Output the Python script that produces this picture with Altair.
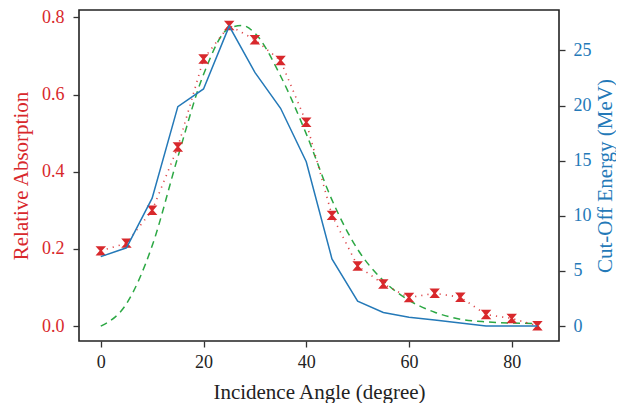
import altair as alt
import pandas as pd

# Data
angles = [0, 5, 10, 15, 20, 25, 30, 35, 40, 45, 50, 55, 60, 65, 70, 75, 80, 85]
absorption = [0.195, 0.215, 0.300, 0.464, 0.692, 0.779, 0.742, 0.688, 0.528,
              0.287, 0.156, 0.109, 0.074, 0.085, 0.075, 0.030, 0.020, 0.001]
energy = [6.3, 7.1, 11.6, 19.9, 21.5, 27.2, 23.0, 19.75, 14.9,
          6.1, 2.27, 1.23, 0.81, 0.55, 0.28, 0.0, 0.0, 0.0]
fit_angles = [0, 5, 10, 15, 20, 25, 27.5, 30, 35, 40, 45, 50, 55, 60, 65, 70, 75, 80, 85]
fit_values = [0.0, 0.058, 0.208, 0.438, 0.652, 0.772, 0.779, 0.759, 0.648, 0.498,
              0.327, 0.199, 0.118, 0.067, 0.036, 0.018, 0.011, 0.008, 0.007]

RED = "#d8282c"
BLUE = "#2479b8"
GREEN = "#2ca844"
FONT = "Liberation Serif"
LBL = 18
TTL = 21
W, H = 480, 331

abs_df = pd.DataFrame({"angle": angles, "absorption": absorption})
en_df = pd.DataFrame({"angle": angles, "energy": energy})
fit_df = pd.DataFrame({"angle": fit_angles, "absorption": fit_values})

common = dict(grid=False, domain=False, tickSize=6, labelFont=FONT,
              titleFont=FONT, labelFontSize=LBL, titleFontSize=TTL,
              titleFontWeight="normal")

x_enc = alt.X(
    "angle:Q",
    scale=alt.Scale(domain=[-4.24, 89.2], nice=False, zero=False),
    axis=alt.Axis(values=[0, 20, 40, 60, 80], title="Incidence Angle (degree)",
                  labelPadding=6, labelColor="#222", titleColor="#222",
                  titleX=W / 2, titleY=51, titleAlign="center",
                  titleBaseline="middle", **common),
)

y_left = alt.Y(
    "absorption:Q",
    scale=alt.Scale(domain=[-0.0385, 0.819], nice=False, zero=False),
    axis=alt.Axis(values=[0, 0.2, 0.4, 0.6, 0.8], format=".1f",
                  title="Relative Absorption", labelPadding=9,
                  labelColor=RED, titleColor=RED, orient="left",
                  titleX=-58, titleY=H / 2, titleAngle=270,
                  titleAlign="center", titleBaseline="middle", **common),
)

y_right = alt.Y(
    "energy:Q",
    scale=alt.Scale(domain=[-1.35, 28.66], nice=False, zero=False),
    axis=alt.Axis(values=[0, 5, 10, 15, 20, 25], title="Cut-Off Energy (MeV)",
                  labelPadding=8, labelColor=BLUE, titleColor=BLUE,
                  orient="right", titleX=46, titleY=H / 2, titleAngle=270,
                  titleAlign="center", titleBaseline="middle", **common),
)

hourglass = "M-1,-0.9L1,-0.9L0.22,0L1,0.9L-1,0.9L-0.22,0Z"

fit_line = alt.Chart(fit_df).mark_line(
    color=GREEN, strokeWidth=1.5, strokeDash=[7, 5], interpolate="monotone"
).encode(x=x_enc, y=y_left)

abs_line = alt.Chart(abs_df).mark_line(
    color=RED, strokeWidth=1.6, strokeDash=[1.2, 5], opacity=0.85
).encode(x=x_enc, y=y_left)

abs_pts = alt.Chart(abs_df).mark_point(
    shape=hourglass, filled=True, color=RED, size=110, opacity=1
).encode(x=x_enc, y=y_left)

en_line = alt.Chart(en_df).mark_line(
    color=BLUE, strokeWidth=1.5
).encode(x=x_enc, y=y_right)

left = alt.layer(fit_line, abs_line, abs_pts)

chart = alt.layer(left, en_line).resolve_scale(y="independent").properties(
    width=W, height=H,
    autosize=alt.AutoSizeParams(type="none"),
    padding={"left": 71, "top": 2, "right": 57, "bottom": 62},
).configure(
    font=FONT
).configure_view(
    stroke="#222", strokeWidth=1.6
).configure_axis(
    labelFont=FONT, titleFont=FONT, tickColor="#333", tickWidth=1.3
)

chart.save("out.html", embed_options={"renderer": "svg", "actions": False})
